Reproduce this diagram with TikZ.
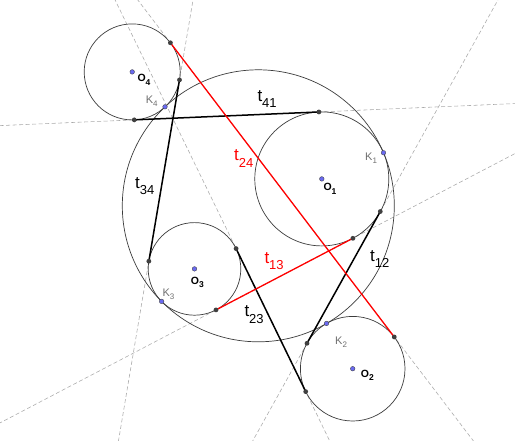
\documentclass[tikz,border=0pt]{standalone}
\usepackage{fontspec}
\setmainfont{Liberation Sans}
\usetikzlibrary{calc}
\definecolor{circcol}{HTML}{3C3C3C}
\definecolor{dashcol}{HTML}{A8A8A8}
\definecolor{ptcol}{HTML}{404040}
\definecolor{bluept}{HTML}{6A6AF0}
\definecolor{klabcol}{HTML}{707070}
\definecolor{redline}{HTML}{FF0000}
\newcommand\tlab[1]{t\raisebox{-6.5pt}{\fontsize{13}{13}\selectfont #1}}
\newcommand\olab[1]{O\raisebox{-3.5pt}{\fontsize{8.5}{8.5}\selectfont #1}}
\newcommand\klab[1]{K\raisebox{-3pt}{\fontsize{8}{8}\selectfont #1}}
\tikzset{
  circline/.style={draw=circcol, line width=0.7pt},
  extline/.style={draw=dashcol, line width=0.55pt, dash pattern=on 4pt off 2.5pt},
  blackseg/.style={draw=black, line width=1.5pt},
  redseg/.style={draw=redline, line width=1.3pt},
  tpt/.style={circle, fill=ptcol, inner sep=0pt, minimum size=4.8pt},
  kpt/.style={circle, fill=bluept, draw=ptcol, line width=0.35pt, inner sep=0pt, minimum size=4.6pt},
  tlabel/.style={anchor=base west, inner sep=0pt, font=\fontsize{17}{17}\selectfont},
  olabel/.style={anchor=base west, inner sep=0pt, font=\fontsize{10.5}{10.5}\selectfont\bfseries},
  klabel/.style={anchor=base west, inner sep=0pt, text=klabcol, font=\fontsize{11}{11}\selectfont}
}
\begin{document}
\begin{tikzpicture}[x=1pt,y=-1pt]
\useasboundingbox[fill=white] (0,0) rectangle (515,440);
\clip (0,0) rectangle (515,440);
% centres
\coordinate (C) at (258.3,205.8);
\coordinate (O1) at (321.8,178.9);
\coordinate (O2) at (352.7,368.7);
\coordinate (O3) at (194.5,268.9);
\coordinate (O4) at (132.2,71.9);
% touching points with the big circle
\coordinate (K1) at (383.5,152.75);
\coordinate (K2) at (326.5,323.45);
\coordinate (K3) at (161.6,301.4);
\coordinate (K4) at (165.0,106.8);
% tangent points
\coordinate (A13) at (352.9,238.3);
\coordinate (B13) at (216.0,309.9);
\coordinate (A24) at (170.4,42.8);
\coordinate (B24) at (394.3,337.0);
\coordinate (A41) at (134.25,119.86);
\coordinate (B41) at (318.9,111.96);
\coordinate (A12) at (380.3,211.5);
\coordinate (B12) at (307.0,343.3);
\coordinate (A23) at (236.1,248.6);
\coordinate (B23) at (305.7,391.6);
\coordinate (A34) at (148.85,261.2);
\coordinate (B34) at (179.5,79.9);
% extended tangent lines
\foreach \a/\b in {A13/B13, A24/B24, A41/B41, A12/B12, A23/B23, A34/B34}{
  \draw[extline] ($(\a)!-4!(\b)$) -- ($(\a)!5!(\b)$);
}
% circles
\draw[circline] (C) circle[radius=136pt];
\draw[circline] (O1) circle[radius=67pt];
\draw[circline] (O2) circle[radius=52.3pt];
\draw[circline] (O3) circle[radius=46.3pt];
\draw[circline] (O4) circle[radius=48pt];
% tangent segments
\draw[blackseg] (A41) -- (B41);
\draw[blackseg] (A12) -- (B12);
\draw[blackseg] (A23) -- (B23);
\draw[blackseg] (A34) -- (B34);
\draw[redseg] (A13) -- (B13);
\draw[redseg] (A24) -- (B24);
% points
\foreach \p in {A13,B13,A24,B24,A41,B41,A12,B12,A23,B23,A34,B34}{
  \node[tpt] (pt\p) at (\p) {};
}
\foreach \p in {O1,O2,O3,O4,K1,K2,K3,K4}{
  \node[kpt] (pt\p) at (\p) {};
}
% labels
\node[tlabel] (l41) at (257.3,101) {\tlab{41}};
\node[tlabel, text=redline] (l24) at (234,160.7) {\tlab{24}};
\node[tlabel] (l34) at (135,188.3) {\tlab{34}};
\node[tlabel, text=redline] (l13) at (264.3,263.3) {\tlab{13}};
\node[tlabel] (l12) at (370,261) {\tlab{12}};
\node[tlabel] (l23) at (244.3,316.7) {\tlab{23}};
\node[olabel] (lo1) at (323.3,190.7) {\olab{1}};
\node[olabel] (lo2) at (360.7,377.3) {\olab{2}};
\node[olabel] (lo3) at (190.7,284) {\olab{3}};
\node[olabel] (lo4) at (137.3,81.7) {\olab{4}};
\node[klabel] (lk1) at (365,160.7) {\klab{1}};
\node[klabel] (lk2) at (335,344) {\klab{2}};
\node[klabel] (lk3) at (162.3,296) {\klab{3}};
\node[klabel] (lk4) at (145.7,103.3) {\klab{4}};
\end{tikzpicture}
\end{document}
